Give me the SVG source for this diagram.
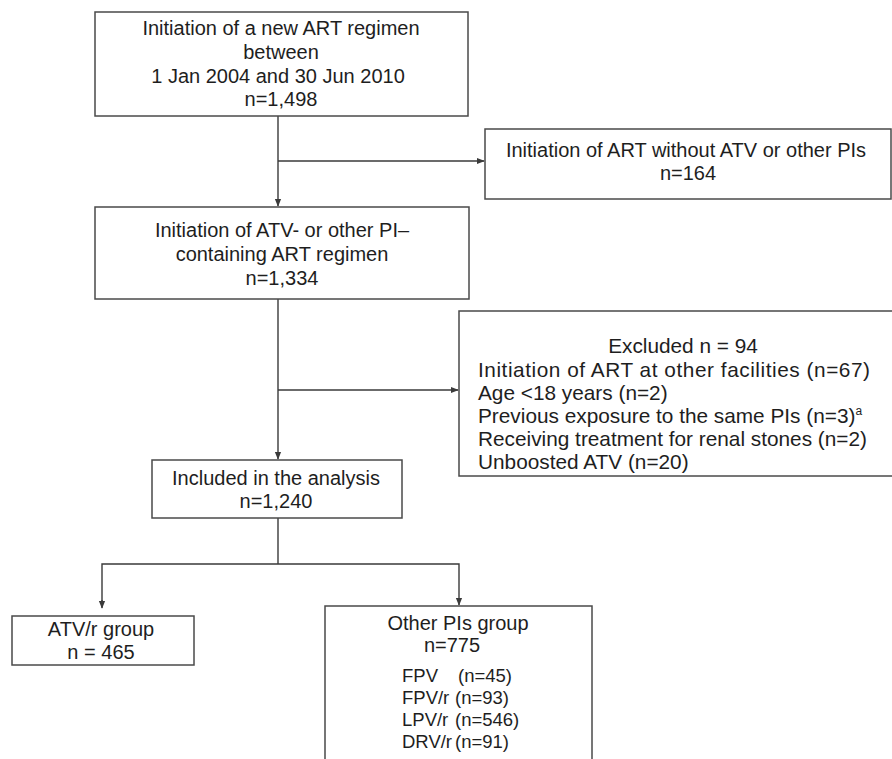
<svg xmlns="http://www.w3.org/2000/svg" width="892" height="759" viewBox="0 0 892 759">
<defs>
<style>
.box{fill:#fff;stroke:#4a4a4a;stroke-width:1.5}
.t{font-family:"Liberation Sans",Arial,sans-serif;font-size:20px;fill:#1e1e1e}
.c{text-anchor:middle}
.e{font-size:20.8px}
.s{font-size:18.5px}
.ln{fill:none;stroke:#3a3a3a;stroke-width:1.4}
</style>
<marker id="ah" viewBox="0 0 10 10" refX="9" refY="5" markerWidth="8" markerHeight="8" markerUnits="userSpaceOnUse" orient="auto">
<path d="M0,1 L10,5 L0,9 Z" fill="#3a3a3a"/>
</marker>
</defs>
<rect width="892" height="759" fill="#fff"/>
<g id="connectors">
<line class="ln" x1="278" y1="116" x2="278" y2="206" marker-end="url(#ah)"/>
<line class="ln" x1="278" y1="161" x2="484" y2="161" marker-end="url(#ah)"/>
<line class="ln" x1="278" y1="299" x2="278" y2="459" marker-end="url(#ah)"/>
<line class="ln" x1="278" y1="390" x2="458" y2="390" marker-end="url(#ah)"/>
<polyline class="ln" points="278,518 278,564"/>
<polyline class="ln" points="102,607 102,564 459,564 459,605" marker-end="url(#ah)"/>
<line class="ln" x1="102" y1="600" x2="102" y2="608" marker-end="url(#ah)"/>
</g>
<g id="n1">
<rect class="box" x="95" y="12" width="373" height="104"/>
<text class="t c" x="281" y="35">Initiation of a new ART regimen</text>
<text class="t c" x="281" y="59">between</text>
<text class="t c" x="278" y="83">1 Jan 2004 and 30 Jun 2010</text>
<text class="t c" x="281" y="106">n=1,498</text>
</g>
<g id="n2">
<rect class="box" x="485" y="129" width="406" height="70"/>
<text class="t c" x="686" y="157">Initiation of ART without ATV or other PIs</text>
<text class="t c" x="688" y="180">n=164</text>
</g>
<g id="n3">
<rect class="box" x="95" y="207" width="374" height="92"/>
<text class="t c" x="282" y="237">Initiation of ATV- or other PI–</text>
<text class="t c" x="282" y="261">containing ART regimen</text>
<text class="t c" x="282" y="285">n=1,334</text>
</g>
<g id="n4">
<rect class="box" x="459" y="311" width="450" height="165"/>
<text class="t e c" x="683" y="353">Excluded n = 94</text>
<text class="t e" x="478" y="377" textLength="392" lengthAdjust="spacing">Initiation of ART at other facilities (n=67)</text>
<text class="t e" x="478" y="400">Age &lt;18 years  (n=2)</text>
<text class="t e" x="478" y="423">Previous exposure to the same PIs (n=3)<tspan font-size="12" dy="-8">a</tspan></text>
<text class="t e" x="478" y="446">Receiving treatment for renal stones (n=2)</text>
<text class="t e" x="478" y="469">Unboosted ATV (n=20)</text>
</g>
<g id="n5">
<rect class="box" x="152" y="460" width="250" height="58"/>
<text class="t c" x="276" y="485">Included in the analysis</text>
<text class="t c" x="276" y="508">n=1,240</text>
</g>
<g id="n6">
<rect class="box" x="12" y="616" width="182" height="49"/>
<text class="t c" x="101" y="636">ATV/r group</text>
<text class="t c" x="101" y="659">n = 465</text>
</g>
<g id="n7">
<rect class="box" x="325" y="606" width="267" height="170"/>
<text class="t c" x="458" y="630">Other PIs group</text>
<text class="t c" x="452" y="652">n=775</text>
<text class="t s" x="402" y="682">FPV</text><text class="t s" x="458" y="682">(n=45)</text>
<text class="t s" x="402" y="704">FPV/r</text><text class="t s" x="455" y="704">(n=93)</text>
<text class="t s" x="402" y="726">LPV/r</text><text class="t s" x="455" y="726">(n=546)</text>
<text class="t s" x="402" y="748">DRV/r</text><text class="t s" x="455" y="748">(n=91)</text>
</g>
</svg>
